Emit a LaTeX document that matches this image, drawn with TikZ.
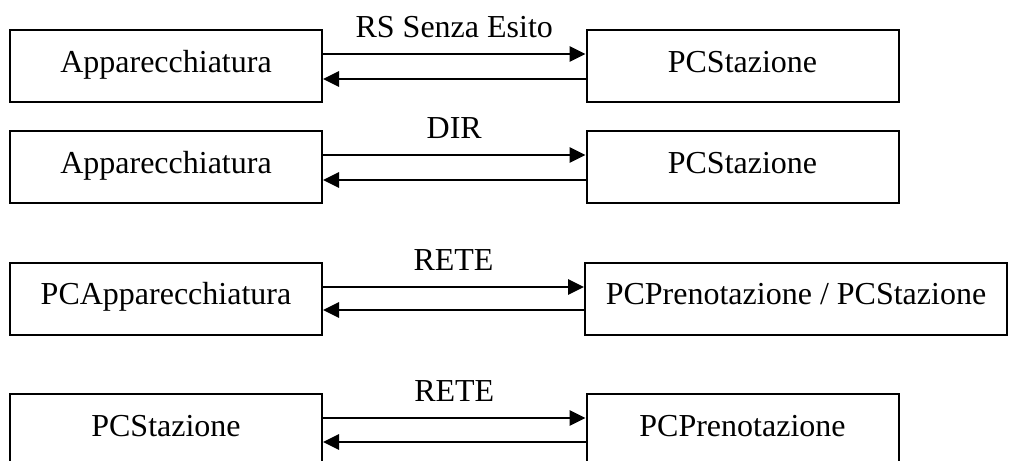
\documentclass[tikz,border=0pt]{standalone}
\usepackage{fontspec}
\setmainfont{Liberation Serif}
\usetikzlibrary{arrows.meta}

\begin{document}
\begin{tikzpicture}[x=0.5pt, y=-0.5pt,
    box/.style={draw, line width=1pt, minimum width=156pt, minimum height=36pt, inner sep=0pt, text height=10pt, text depth=4pt, font=\fontsize{16}{19}\selectfont},
    flow/.style={line width=1.4pt, -{Triangle[length=8pt,width=7.5pt]}},
    lbl/.style={anchor=base, yshift=8.5pt, font=\fontsize{16}{19}\selectfont}]
    \useasboundingbox (0,0) rectangle (1009,461);

    \node[box] (app1) at (166, 66) {Apparecchiatura};
    \node[box] (sta1) at (742.5, 66) {PCStazione};
    \draw[flow] ([yshift=6pt]app1.east) -- node[lbl] {RS Senza Esito} ([yshift=6pt]sta1.west);
    \draw[flow] ([yshift=-6.5pt]sta1.west) -- ([yshift=-6.5pt]app1.east);

    \node[box] (app2) at (166, 167) {Apparecchiatura};
    \node[box] (sta2) at (742.5, 167) {PCStazione};
    \draw[flow] ([yshift=6pt]app2.east) -- node[lbl] {DIR} ([yshift=6pt]sta2.west);
    \draw[flow] ([yshift=-6.5pt]sta2.west) -- ([yshift=-6.5pt]app2.east);

    \node[box] (pcapp) at (166, 298.5) {PCApparecchiatura};
    \node[box, minimum width=211pt] (pren1) at (796, 298.5) {PCPrenotazione / PCStazione};
    \draw[flow] ([yshift=5.75pt]pcapp.east) -- node[lbl] {RETE} ([yshift=5.75pt]pren1.west);
    \draw[flow] ([yshift=-5.75pt]pren1.west) -- ([yshift=-5.75pt]pcapp.east);

    \node[box] (sta3) at (166, 430) {PCStazione};
    \node[box] (pren2) at (742.5, 430) {PCPrenotazione};
    \draw[flow] ([yshift=6pt]sta3.east) -- node[lbl] {RETE} ([yshift=6pt]pren2.west);
    \draw[flow] ([yshift=-6pt]pren2.west) -- ([yshift=-6pt]sta3.east);

\end{tikzpicture}
\end{document}
